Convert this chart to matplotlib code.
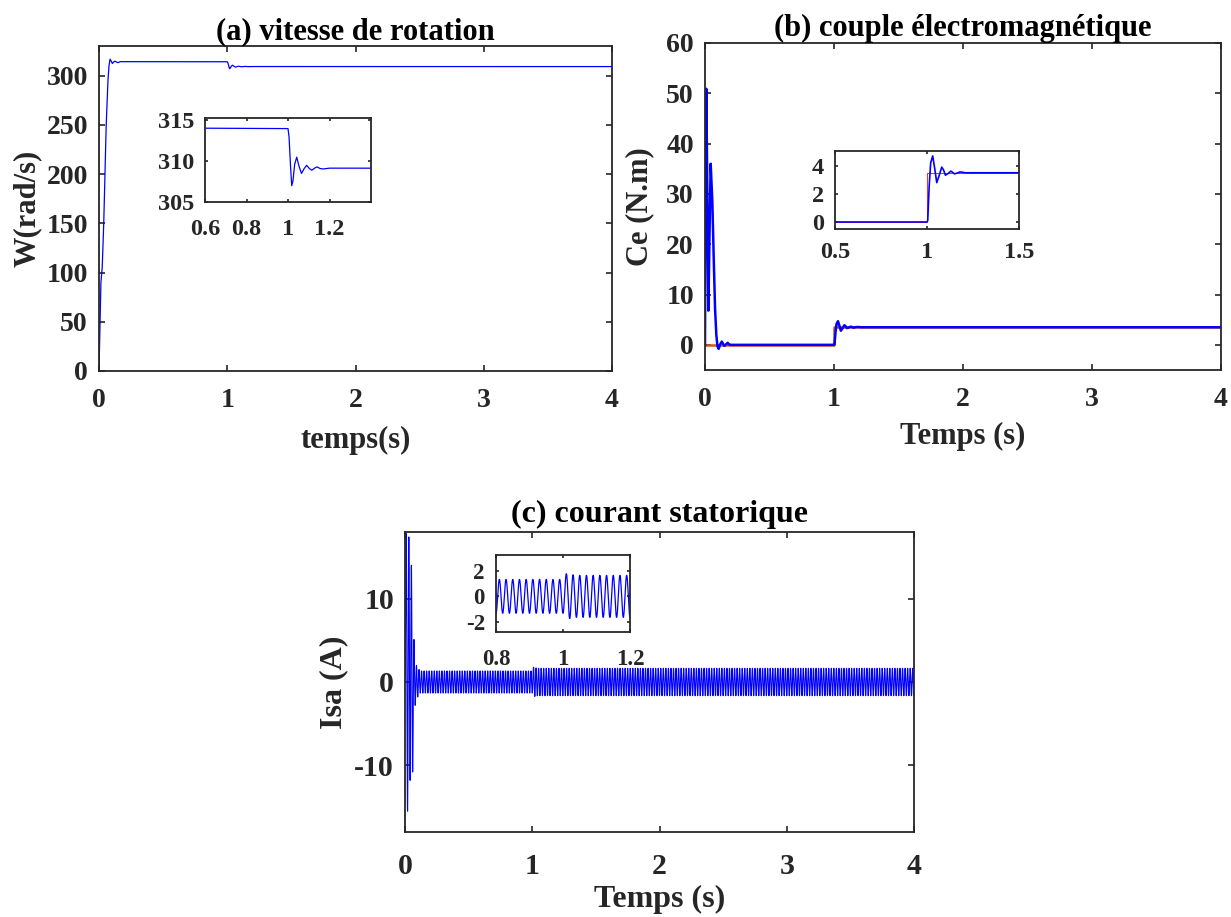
import matplotlib
matplotlib.use("Agg")
import matplotlib.pyplot as plt
import numpy as np

plt.rcParams['font.family'] = ['Liberation Serif', 'DejaVu Serif']
plt.rcParams['font.weight'] = 'bold'
plt.rcParams['axes.unicode_minus'] = False

# (a) rotor speed (s, rad/s)
w_t = [0, 0.005, 0.015, 0.025, 0.037, 0.056, 0.07, 0.078, 0.086, 0.095, 0.104,
       0.115, 0.125, 0.137, 0.148, 0.16, 0.17, 0.185, 0.2, 1.0, 1.005, 1.012,
       1.018, 1.024, 1.032, 1.042, 1.053, 1.065, 1.078, 1.09, 1.103, 1.115,
       1.128, 1.14, 1.155, 1.17, 1.2, 4.0]
w_val = [0, 30, 90, 105, 150, 249, 295, 310, 316.6, 314.8, 312.2,
         313.8, 314.6, 313.6, 313.1, 313.8, 314.2, 314.0, 314.1, 314.0, 313.0, 309.5,
         307.0, 307.6, 309.6, 310.5, 309.4, 308.5, 309.1, 309.5, 309.1, 308.9,
         309.15, 309.3, 309.1, 309.05, 309.15, 309.1]

# (b) electromagnetic torque and its reference (s, N.m)
ce_t = [0, 0.003, 0.01, 0.018, 0.026, 0.035, 0.044, 0.057, 0.067, 0.078, 0.088,
        0.097, 0.106, 0.118, 0.13, 0.14, 0.15, 0.163, 0.176, 0.187, 0.197, 0.22,
        1.0, 1.004, 1.012, 1.02, 1.031, 1.042, 1.053, 1.066, 1.08, 1.09, 1.1,
        1.115, 1.13, 1.15, 1.18, 1.21, 4.0]
ce_val = [0, 20, 50.9, 30, 6.8, 22, 36, 28.4, 17.8, 7.2, 1.9,
          -0.3, -0.8, 0.1, 0.65, 0.2, -0.2, 0.1, 0.4, 0.1, 0.0, 0.0,
          0.0, 0.1, 2.6, 4.2, 4.7, 3.8, 2.8, 3.3, 3.9, 3.7, 3.33,
          3.45, 3.62, 3.42, 3.56, 3.5, 3.5]
cref_t = [0, 1.0, 1.0, 4.0]
cref_val = [0, 0, 3.5, 3.5]

# (c) stator current: half-cycle extrema of the start-up, then 50 Hz envelope
isa_peak_val = [0, 17.8, -15.5, 17.4, -11.8, 14.0, -10.8, 5.1, -2.8, 2.0, -1.8, 1.5]
isa_freq = 50.0
isa_env_t = [0.12, 1.0, 1.01, 1.04, 4.0]
isa_env = [1.33, 1.33, 1.78, 1.65, 1.65]


def build_current():
    half = 0.5 / isa_freq
    n_ext = int(round(4.0 / half)) + 1
    ext_t = np.arange(n_ext) * half
    ext_v = np.empty(n_ext)
    n0 = len(isa_peak_val)
    ext_v[:n0] = isa_peak_val
    sign = 1.0 if isa_peak_val[-1] < 0 else -1.0
    for k in range(n0, n_ext):
        ext_v[k] = sign * np.interp(ext_t[k], isa_env_t, isa_env)
        sign = -sign
    t = np.linspace(0, 4.0, 40001)
    idx = np.clip((t / half).astype(int), 0, n_ext - 2)
    s = (t - ext_t[idx]) / half
    v = ext_v[idx] + (ext_v[idx + 1] - ext_v[idx]) * (1 - np.cos(np.pi * s)) / 2
    return t, v


isa_t, isa_val = build_current()

W, H = 1231, 917
fig = plt.figure(figsize=(W / 100, H / 100), dpi=100)
dark = '#262626'


def axes_px(l, t, r, b):
    return fig.add_axes([l / W, 1 - b / H, (r - l) / W, (b - t) / H])


def style(ax, size, tlen, xpad, ypad):
    for sp in ax.spines.values():
        sp.set_linewidth(1.3)
        sp.set_color(dark)
    ax.tick_params(direction='in', top=True, right=True, length=tlen,
                   width=1.2, color=dark, labelsize=size, labelcolor=dark)
    ax.tick_params(axis='x', pad=xpad)
    ax.tick_params(axis='y', pad=ypad)
    for lab in ax.get_xticklabels() + ax.get_yticklabels():
        lab.set_fontweight('bold')


# (a)
ax1 = axes_px(99, 46, 612, 371)
ax1.plot(w_t, w_val, color='b', lw=0.9)
ax1.set_xlim(0, 4)
ax1.set_ylim(0, 330)
ax1.set_xticks([0, 1, 2, 3, 4])
ax1.set_yticks(np.arange(0, 301, 50))
style(ax1, 20, 4, 12.5, 8)
ax1.set_title('(a) vitesse de rotation', fontsize=22, fontweight='bold', pad=5)
ax1.set_xlabel('temps(s)', fontsize=22, fontweight='bold', color=dark, labelpad=9)
ax1.set_ylabel('W(rad/s)', fontsize=22, fontweight='bold', color=dark, labelpad=3)

in1 = axes_px(205, 118, 371, 202)
in1.plot(w_t, w_val, color='b', lw=0.9)
in1.set_xlim(0.6, 1.4)
in1.set_ylim(305, 315.3)
in1.set_xticks([0.6, 0.8, 1, 1.2])
in1.set_xticklabels(['0.6', '0.8', '1', '1.2'])
in1.set_yticks([305, 310, 315])
style(in1, 17.5, 2.5, 12, 8)

# (b)
ax2 = axes_px(705, 43, 1221, 370)
ax2.plot(cref_t, cref_val, color='#D95319', lw=1.8)
ax2.plot(ce_t, ce_val, color='b', lw=1.8)
ax2.set_xlim(0, 4)
ax2.set_ylim(-5, 60)
ax2.set_xticks([0, 1, 2, 3, 4])
ax2.set_yticks(np.arange(0, 61, 10))
style(ax2, 20, 4, 12.5, 8)
ax2.set_title('(b) couple électromagnétique', fontsize=22, fontweight='bold', pad=5)
ax2.set_xlabel('Temps (s)', fontsize=22, fontweight='bold', color=dark, labelpad=7)
ax2.set_ylabel('Ce (N.m)', fontsize=22, fontweight='bold', color=dark, labelpad=9)

in2 = axes_px(835, 151, 1019, 229)
in2.plot(cref_t, cref_val, color='r', lw=0.6)
in2.plot(ce_t, ce_val, color='b', lw=1.2)
in2.set_xlim(0.5, 1.5)
in2.set_ylim(-0.5, 5.05)
in2.set_xticks([0.5, 1, 1.5])
in2.set_xticklabels(['0.5', '1', '1.5'])
in2.set_yticks([0, 2, 4])
style(in2, 17.5, 2.5, 9, 8)

# (c)
ax3 = axes_px(405, 532, 914, 832)
ax3.plot(isa_t, isa_val, color='b', lw=0.8)
ax3.set_xlim(0, 4)
ax3.set_ylim(-18, 18)
ax3.set_xticks([0, 1, 2, 3, 4])
ax3.set_yticks([-10, 0, 10])
style(ax3, 21.5, 4, 15, 8)
ax3.set_title('(c) courant statorique', fontsize=23, fontweight='bold', pad=7)
ax3.set_xlabel('Temps (s)', fontsize=23, fontweight='bold', color=dark, labelpad=4)
ax3.set_ylabel('Isa (A)', fontsize=23, fontweight='bold', color=dark, labelpad=4)

in3 = axes_px(496, 555, 630, 632)
in3.plot(isa_t, isa_val, color='b', lw=0.9)
in3.set_xlim(0.8, 1.2)
in3.set_ylim(-2.8, 3.25)
in3.set_xticks([0.8, 1, 1.2])
in3.set_xticklabels(['0.8', '1', '1.2'])
in3.set_yticks([-2, 0, 2])
style(in3, 16.5, 2.5, 12, 8)

fig.savefig('out.png', dpi=100)
